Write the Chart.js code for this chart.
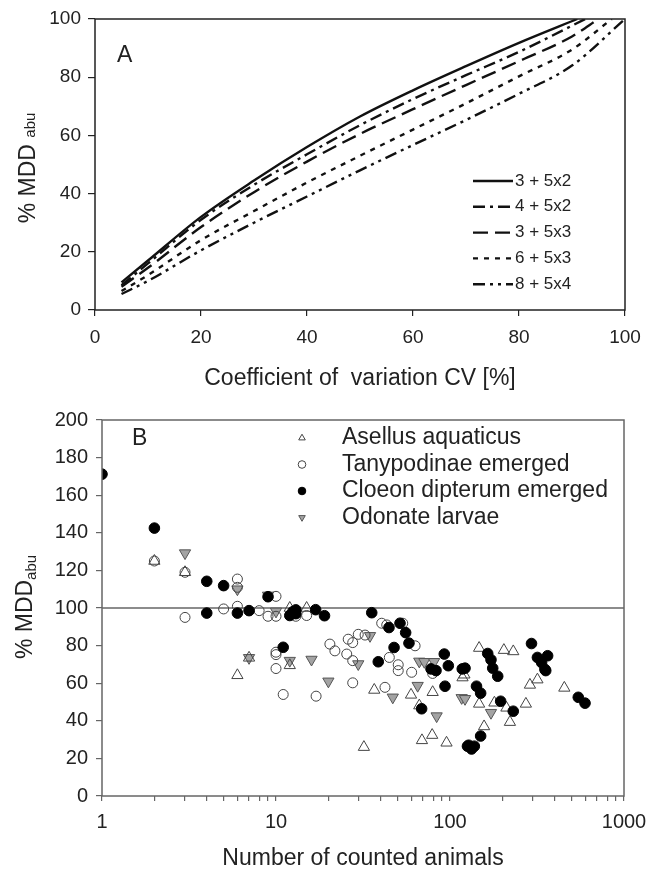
<!DOCTYPE html>
<html>
<head>
<meta charset="utf-8">
<script src="https://cdn.jsdelivr.net/npm/chart.js@4.4.0/dist/chart.umd.min.js"></script>
<style>
  html, body { margin: 0; padding: 0; background: #fff; }
  #wrap { position: relative; width: 661px; height: 874px; }
  canvas { position: absolute; left: 0; }
  #mddChart { top: 0; }
  #countChart { top: 400px; }
</style>
</head>
<body>
<div id="wrap">
  <canvas id="mddChart" width="661" height="400"></canvas>
  <canvas id="countChart" width="661" height="474"></canvas>
</div>
<script>
// ---- panel A: MDD against CV for the five designs ----
var designLabels = ['3 + 5x2', '4 + 5x2', '3 + 5x3', '6 + 5x3', '8 + 5x4'];
var cv_3_5x2 = [5, 10, 20, 30, 40, 50, 60, 70, 80, 91];
var mdd_3_5x2 = [9.5, 17, 32, 44.5, 56, 66.5, 75.5, 83.8, 91.8, 100];
var cv_4_5x2 = [5, 10, 20, 30, 40, 50, 60, 70, 80, 92.5];
var mdd_4_5x2 = [8.5, 16, 31, 43, 53.5, 63.5, 72.5, 80.7, 88.7, 100];
var cv_3_5x3 = [5, 10, 20, 30, 40, 50, 60, 70, 80, 90, 95];
var mdd_3_5x3 = [8, 14.5, 28.5, 40.5, 51, 60.5, 69, 77.3, 85.5, 94, 100];
var cv_6_5x3 = [5, 10, 20, 30, 40, 50, 60, 70, 80, 90, 97.5];
var mdd_6_5x3 = [6.5, 12, 24, 34, 43.8, 53, 62, 71, 80.3, 89.5, 100];
var cv_8_5x4 = [5, 10, 20, 30, 40, 50, 60, 70, 80, 90, 100];
var mdd_8_5x4 = [5.5, 10, 20.5, 30, 39, 48, 56.7, 65.3, 74.3, 84, 100];

// ---- panel B: MDD against number of counted animals ----
var groupLabels = ['Asellus aquaticus', 'Tanypodinae emerged', 'Cloeon dipterum emerged', 'Odonate larvae'];
var asellusN = [2, 3, 6, 7, 12, 12, 15, 32, 36.7, 59.7, 66.6, 69, 79, 79.5, 95.5, 118, 121, 147, 147, 157, 180, 204, 211, 221, 231, 273, 288, 318, 454];
var asellusMDD = [125, 119, 64.2, 73.5, 69.5, 100, 100, 26, 56.4, 53.8, 48.1, 29.6, 32.4, 55.2, 28.3, 63, 64.5, 78.7, 49, 37, 49.6, 77.6, 46.9, 39.3, 76.9, 49, 59.1, 61.9, 57.5];
var tanyN = [2, 3, 3, 5, 6, 6, 6, 8, 9, 10, 10, 10, 10, 10, 11, 13, 15, 17, 20.4, 21.8, 25.5, 26, 27.6, 27.6, 27.6, 29.7, 32.5, 40.5, 42.3, 43.3, 44.8, 50.4, 50.4, 53.5, 60.2, 63, 79.5];
var tanyMDD = [125, 119, 95, 99.5, 115.4, 111, 100.9, 98.6, 95.6, 106.2, 95.6, 76.5, 75.2, 67.8, 54, 95.6, 96, 53.1, 80.8, 77.2, 75.5, 83.4, 81.6, 72, 60.2, 86, 85.6, 91.9, 57.8, 91, 73.7, 69.8, 66.7, 91.9, 65.8, 79.9, 65.2];
var cloeonN = [1, 2, 4, 4, 5, 6, 7, 9, 11, 12, 12.5, 13, 13, 16.9, 19, 35.5, 38.7, 44.6, 47.7, 51.6, 55.6, 58.1, 68.7, 77.8, 83.1, 92.7, 93.6, 97.8, 117.6, 122, 126, 128, 133, 138, 142, 150, 150, 164.7, 172, 176, 188, 195.5, 231, 294, 318, 336, 351, 355, 364, 546, 597];
var cloeonMDD = [171.2, 142.5, 114.2, 97.3, 111.9, 97.3, 98.6, 106, 79.1, 96, 98, 99, 97, 99.1, 95.9, 97.5, 71.4, 89.6, 79, 91.9, 86.9, 81.3, 46.4, 67.6, 66.7, 75.5, 58.4, 69.3, 67.6, 68, 26.5, 27, 25, 26.5, 58.4, 54.7, 31.9, 75.8, 72.5, 68, 63.7, 50.4, 45.1, 81.1, 73.7, 71, 67.4, 66.7, 74.6, 52.5, 49.4];
var odonateN = [3, 6, 7, 9, 10, 12, 16, 20, 29.7, 34.7, 46.9, 65.2, 66.6, 71.2, 81, 83.8, 116.7, 122, 172];
var odonateMDD = [129.2, 110, 73.5, 106.7, 98.2, 72, 72.6, 61, 70.2, 85.2, 52.5, 58.7, 71.6, 71.4, 71.4, 42.5, 52.2, 51.7, 44.3];
var refN = [1, 1000];
var refMDD = [100, 100];

var FONT = "'Liberation Sans', Arial, sans-serif";

function toPoints(xs, ys) {
  return xs.map(function(x, i) { return { x: x, y: ys[i] }; });
}

// frame, panel letter, y title with subscript and a small inline legend
var panelDecor = {
  id: 'panelDecor',
  afterDraw: function(chart, args, opts) {
    var ctx = chart.ctx;
    var area = chart.chartArea;
    ctx.save();
    ctx.strokeStyle = opts.frameColor;
    ctx.lineWidth = opts.frameWidth;
    ctx.strokeRect(area.left, area.top, area.right - area.left, area.bottom - area.top);

    ctx.fillStyle = '#222';
    ctx.font = opts.letterSize + 'px ' + FONT;
    ctx.textBaseline = 'middle';
    ctx.textAlign = 'left';
    ctx.fillText(opts.letter, opts.letterX, opts.letterY);

    // rotated y title
    var t = opts.yTitle;
    ctx.save();
    ctx.translate(t.x, t.y);
    ctx.rotate(-Math.PI / 2);
    ctx.textBaseline = 'alphabetic';
    ctx.font = t.size + 'px ' + FONT;
    var wMain = ctx.measureText(t.main).width;
    ctx.font = t.subSize + 'px ' + FONT;
    var wSub = ctx.measureText(t.sub).width;
    var start = -(wMain + wSub) / 2;
    ctx.font = t.size + 'px ' + FONT;
    ctx.fillText(t.main, start, t.size * 0.36);
    ctx.font = t.subSize + 'px ' + FONT;
    ctx.fillText(t.sub, start + wMain, t.size * 0.36 + t.subShift);
    ctx.restore();

    // legend
    var lg = opts.legend;
    var row = 0;
    ctx.font = lg.size + 'px ' + FONT;
    ctx.textBaseline = 'middle';
    chart.data.datasets.forEach(function(ds) {
      if (ds.inLegend === false) return;
      var y = lg.y + row * lg.rowHeight;
      if (lg.type === 'line') {
        ctx.save();
        ctx.strokeStyle = ds.borderColor;
        ctx.lineWidth = ds.borderWidth;
        ctx.setLineDash(ds.borderDash || []);
        ctx.beginPath();
        ctx.moveTo(lg.x, y);
        ctx.lineTo(lg.x + lg.lineLen, y);
        ctx.stroke();
        ctx.restore();
      } else {
        ctx.save();
        ctx.fillStyle = ds.backgroundColor;
        ctx.strokeStyle = ds.borderColor;
        ctx.lineWidth = ds.borderWidth;
        Chart.helpers.drawPoint(ctx, {
          pointStyle: ds.pointStyle,
          rotation: ds.rotation || 0,
          radius: lg.markerRadius,
          borderWidth: ds.borderWidth
        }, lg.x, y);
        ctx.restore();
      }
      ctx.fillStyle = '#222';
      ctx.fillText(ds.label, lg.textX, y);
      row++;
    });
    ctx.restore();
  }
};

// ---- chart A ----
var dashes = [[], [12, 5, 3, 5], [15, 7], [5, 6], [12, 5, 3, 5, 3, 5]];
var cvSeries = [cv_3_5x2, cv_4_5x2, cv_3_5x3, cv_6_5x3, cv_8_5x4];
var mddSeries = [mdd_3_5x2, mdd_4_5x2, mdd_3_5x3, mdd_6_5x3, mdd_8_5x4];

var mddChart = new Chart(document.getElementById('mddChart'), {
  type: 'scatter',
  data: {
    datasets: designLabels.map(function(lbl, i) {
      return {
        label: lbl,
        data: toPoints(cvSeries[i], mddSeries[i]),
        showLine: true,
        borderColor: '#111',
        borderWidth: 2.4,
        borderDash: dashes[i],
        borderCapStyle: 'butt',
        cubicInterpolationMode: 'monotone',
        pointRadius: 0,
        fill: false
      };
    })
  },
  options: {
    responsive: false,
    animation: false,
    devicePixelRatio: 1,
    layout: { padding: { top: 19, right: 36, left: 0, bottom: 0 } },
    plugins: {
      legend: { display: false },
      tooltip: { enabled: false },
      panelDecor: {
        frameColor: '#222', frameWidth: 1.5,
        letter: 'A', letterX: 117, letterY: 56, letterSize: 23,
        yTitle: { main: '% MDD ', sub: 'abu', x: 27, y: 168, size: 23, subSize: 15, subShift: 0 },
        legend: { type: 'line', x: 473, y: 181, rowHeight: 25.8, lineLen: 40, textX: 515, size: 17 }
      }
    },
    scales: {
      x: {
        type: 'linear', min: 0, max: 100,
        ticks: { stepSize: 20, color: '#222', font: { size: 19, family: FONT }, padding: 10, maxRotation: 0 },
        grid: { drawOnChartArea: false, tickLength: 6, color: '#222', lineWidth: 1.2 },
        border: { display: false },
        title: { display: true, text: 'Coefficient of  variation CV [%]', color: '#222', font: { size: 23, family: FONT }, padding: { top: 0, bottom: 8 } },
        afterFit: function(s) { s.height = 90; }
      },
      y: {
        type: 'linear', min: 0, max: 100,
        ticks: { stepSize: 20, color: '#222', font: { size: 19, family: FONT }, padding: 7 },
        grid: { drawOnChartArea: false, tickLength: 7, color: '#222', lineWidth: 1.2 },
        border: { display: false },
        afterFit: function(s) { s.width = 95; }
      }
    }
  },
  plugins: [panelDecor]
});

// ---- chart B ----
var countChart = new Chart(document.getElementById('countChart'), {
  type: 'scatter',
  data: {
    datasets: [
      { label: groupLabels[0], data: toPoints(asellusN, asellusMDD), pointStyle: 'triangle', rotation: 0, pointRadius: 6.5,
        backgroundColor: 'rgba(255,255,255,0)', borderColor: '#444', borderWidth: 1, order: 1 },
      { label: groupLabels[1], data: toPoints(tanyN, tanyMDD), pointStyle: 'circle', pointRadius: 5,
        backgroundColor: 'rgba(255,255,255,0)', borderColor: '#444', borderWidth: 1, order: 2 },
      { label: groupLabels[2], data: toPoints(cloeonN, cloeonMDD), pointStyle: 'circle', pointRadius: 5.3,
        backgroundColor: '#000', borderColor: '#000', borderWidth: 1, order: 0 },
      { label: groupLabels[3], data: toPoints(odonateN, odonateMDD), pointStyle: 'triangle', rotation: 180, pointRadius: 6.5,
        backgroundColor: '#a3a3a3', borderColor: '#555', borderWidth: 1, order: 3 },
      { label: 'ref', inLegend: false, data: toPoints(refN, refMDD), showLine: true, pointRadius: 0,
        borderColor: '#666', borderWidth: 1.3, order: 10 }
    ]
  },
  options: {
    responsive: false,
    animation: false,
    devicePixelRatio: 1,
    layout: { padding: { top: 18, right: 37, left: 0, bottom: 0 } },
    plugins: {
      legend: { display: false },
      tooltip: { enabled: false },
      panelDecor: {
        frameColor: '#666', frameWidth: 1.5,
        letter: 'B', letterX: 132, letterY: 39, letterSize: 23,
        yTitle: { main: '% MDD', sub: 'abu', x: 24, y: 207, size: 23, subSize: 15, subShift: 4 },
        legend: { type: 'point', x: 302, y: 38, rowHeight: 26.5, markerRadius: 3.8, textX: 342, size: 23 }
      }
    },
    scales: {
      x: {
        type: 'logarithmic', min: 1, max: 1000,
        afterBuildTicks: function(s) {
          var t = [];
          [1, 10, 100].forEach(function(d) {
            for (var k = 1; k <= 9; k++) t.push({ value: d * k });
          });
          t.push({ value: 1000 });
          s.ticks = t;
        },
        ticks: {
          autoSkip: false, maxRotation: 0, color: '#222', font: { size: 20, family: FONT }, padding: 9,
          callback: function(v) { return [1, 10, 100, 1000].indexOf(v) >= 0 ? String(v) : ''; }
        },
        grid: { drawOnChartArea: false, tickLength: 5, color: '#666', lineWidth: 1.2 },
        border: { display: false },
        title: { display: true, text: 'Number of counted animals', color: '#222', font: { size: 23, family: FONT }, padding: { top: 0, bottom: 2 } },
        afterFit: function(s) { s.height = 78; }
      },
      y: {
        type: 'linear', min: 0, max: 200,
        ticks: { stepSize: 20, color: '#222', font: { size: 20, family: FONT }, padding: 8 },
        grid: { drawOnChartArea: false, tickLength: 6, color: '#666', lineWidth: 1.2 },
        border: { display: false },
        afterFit: function(s) { s.width = 102; }
      }
    }
  },
  plugins: [panelDecor]
});
</script>
</body>
</html>
